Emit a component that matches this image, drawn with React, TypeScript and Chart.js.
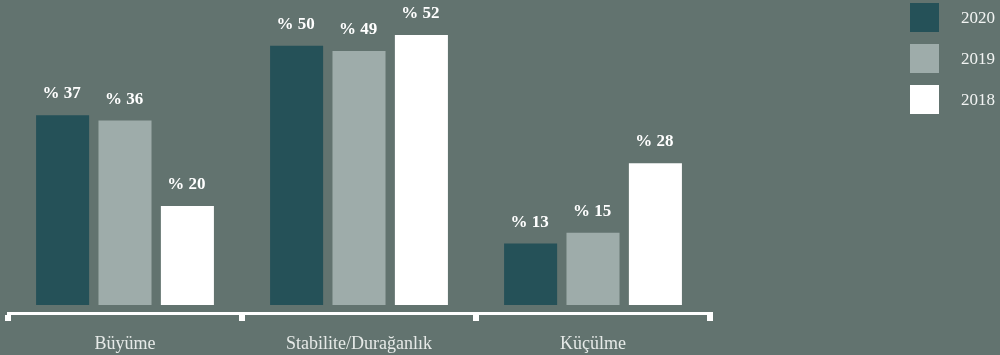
import React, { useEffect, useRef } from "react";
import { Chart, registerables } from "chart.js";

Chart.register(...registerables);

const categories = ["Büyüme", "Stabilite/Durağanlık", "Küçülme"];
const seriesNames = ["2020", "2019", "2018"];
const values2020 = [37, 50, 13];
const values2019 = [36, 49, 15];
const values2018 = [20, 52, 28];

const BG = "#62736f";
const seriesColors = ["#255158", "#9eacaa", "#ffffff"];
const SERIF = '"Liberation Serif", "DejaVu Serif", serif';

const valueLabelPlugin = {
  id: "valueLabels",
  afterDatasetsDraw(chart: any) {
    const ctx = chart.ctx;
    ctx.save();
    ctx.font = `bold 17px ${SERIF}`;
    ctx.fillStyle = "#ffffff";
    ctx.textAlign = "center";
    ctx.textBaseline = "alphabetic";
    chart.data.datasets.forEach((ds: any, i: number) => {
      const meta = chart.getDatasetMeta(i);
      meta.data.forEach((bar: any, j: number) => {
        ctx.fillText(`% ${ds.data[j]}`, bar.x - 1, bar.y - 17);
      });
    });
    ctx.restore();
  },
};

const sideLegendPlugin = {
  id: "sideLegend",
  afterDraw(chart: any) {
    const ctx = chart.ctx;
    ctx.save();
    chart.data.datasets.forEach((ds: any, i: number) => {
      const y = 3 + i * 41;
      ctx.fillStyle = ds.backgroundColor;
      ctx.fillRect(910, y, 29, 29);
      ctx.fillStyle = "#f2f4f3";
      ctx.font = `17px ${SERIF}`;
      ctx.textAlign = "left";
      ctx.textBaseline = "middle";
      ctx.fillText(ds.label, 961, y + 16);
    });
    ctx.restore();
  },
};

function App() {
  const canvasRef = useRef<HTMLCanvasElement | null>(null);

  useEffect(() => {
    const canvas = canvasRef.current;
    if (!canvas) return;
    const seriesValues = [values2020, values2019, values2018];
    const chart = new Chart(canvas, {
      type: "bar",
      data: {
        labels: categories,
        datasets: seriesNames.map((name, i) => ({
          label: name,
          data: seriesValues[i],
          backgroundColor: seriesColors[i],
          borderWidth: 0,
          base: 1.5,
          categoryPercentage: 0.8,
          barPercentage: 0.85,
        })),
      },
      options: {
        responsive: false,
        animation: false,
        layout: { padding: { left: 8, right: 290, top: 19, bottom: 0 } },
        plugins: {
          legend: { display: false },
          tooltip: { enabled: false },
        },
        scales: {
          y: { display: false, min: 0, max: 55 },
          x: {
            afterFit(scale: any) {
              scale.height = 42;
            },
            grid: {
              display: true,
              drawOnChartArea: false,
              drawTicks: true,
              tickLength: 8,
              lineWidth: 6,
              color: "#ffffff",
              offset: true,
            },
            border: { display: true, color: "#ffffff", width: 3 },
            ticks: {
              color: "#e6eae8",
              font: { family: SERIF, size: 18 },
              padding: 12,
            },
          },
        },
      } as any,
      plugins: [valueLabelPlugin, sideLegendPlugin],
    });
    return () => chart.destroy();
  }, []);

  return (
    <div
      style={{
        position: "fixed",
        left: 0,
        top: 0,
        width: 1000,
        height: 355,
        background: BG,
        overflow: "hidden",
      }}
    >
      <canvas ref={canvasRef} width={1000} height={355} style={{ display: "block" }} />
    </div>
  );
}

export default App;
